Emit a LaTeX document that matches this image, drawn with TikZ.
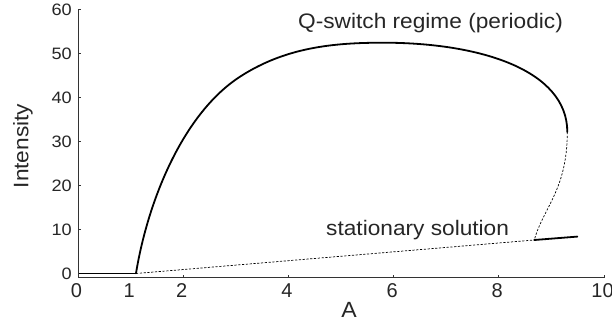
\documentclass[tikz,border=0pt]{standalone}
\usepackage{fontspec}
\setmainfont{Liberation Sans}
\newcommand\xticklab[1]{{\fontsize{20}{22}\selectfont #1}}
\newcommand\yticklab[1]{\scalebox{1.1}[1]{\fontsize{16.5}{19}\selectfont #1}}
\newcommand\biglab[1]{\scalebox{1.08}[1]{\fontsize{21}{24}\selectfont #1}}
\begin{document}
\begin{tikzpicture}[x=1pt,y=-1pt,
  axisline/.style={draw=black!80,line width=0.9pt},
  branch/.style={line width=1.8pt,line cap=round},
  unstable/.style={line width=0.7pt,dash pattern=on 2.2pt off 1.6pt},
  txt/.style={inner sep=0pt,text=black!85}]
\useasboundingbox (0,0) rectangle (612,326);
% axes
\draw[axisline] (78.1,277.9) -- (604.1,277.9);
\draw[axisline] (78.1,277.9) -- (78.1,9.5);
\foreach \k/\lab in {0/0,1/2,2/4,3/6,4/8,5/10} {
  \draw[axisline] ({78.1+105.2*\k},277.9) -- ({78.1+105.2*\k},274.8);
  \node[txt,anchor=center] (xt\lab) at ({76.5+105.2*\k},290.8) {\xticklab{\lab}};
}
\node[txt,anchor=center] (xt1) at (129.3,290.8) {\xticklab{1}};
\foreach \k/\lab in {0/0,1/10,2/20,3/30,4/40,5/50,6/60} {
  \draw[axisline] (78.1,{273.5-44*\k}) -- (81.3,{273.5-44*\k});
  \node[txt,anchor=east] (yt\lab) at (72,{273.5-44*\k}) {\yticklab{\lab}};
}
\node[txt,rotate=90,anchor=center] (ylab) at (23,146) {\biglab{Intensity}};
\node[txt,anchor=center] (xlab) at (349,310) {\scalebox{1.05}[1]{\fontsize{22}{24}\selectfont A}};
\node[txt,anchor=base west] (qlab) at (298,28.3) {\biglab{Q-switch regime (periodic)}};
\node[txt,anchor=base west] (slab) at (326,235) {\biglab{stationary solution}};
% zero branch
\draw[line width=1.4pt] (79,273.5) -- (136,273.5);
% stationary branch
\draw[unstable] (136,273.5) -- (534.3,240);
\draw[branch] (534.3,240) -- (577.3,236.6);
% periodic branch
\draw[branch] (136,273.3) .. controls (148,200) and (183.3,113.4) .. (240,76.7)
  .. controls (285.4,47.3) and (333.3,42.7) .. (383.3,42.7)
  .. controls (480,42.7) and (567.3,70) .. (567.3,132);
\draw[unstable] (567.3,132) .. controls (567.3,190) and (543,208) .. (534.3,240);
\end{tikzpicture}
\end{document}
